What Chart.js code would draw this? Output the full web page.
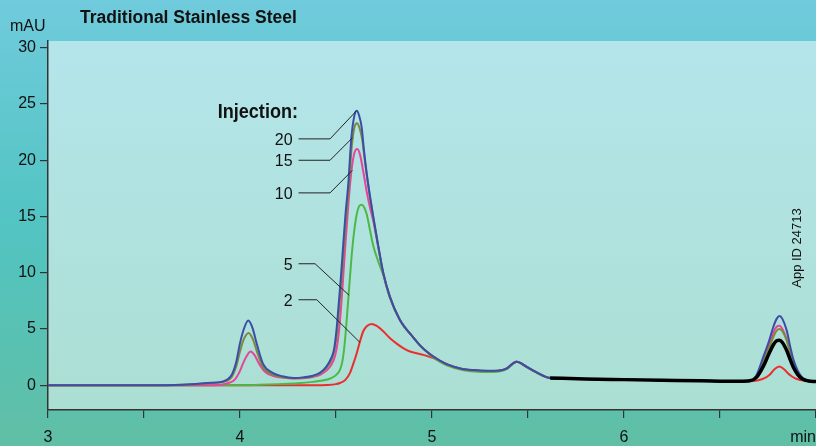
<!DOCTYPE html>
<html>
<head>
<meta charset="utf-8">
<script src="https://cdn.jsdelivr.net/npm/chart.js@4.4.1/dist/chart.umd.min.js"></script>
<style>
  html, body { margin: 0; padding: 0; background: #5fc3bd; }
  canvas { display: block; }
</style>
</head>
<body>
<canvas id="chrom" width="816" height="446"></canvas>
<script>
// retention time (min), absorbance (mAU) pairs
const inj20 = [[3.0,0],[3.5,0],[3.7,0.05],[3.85,0.22],[3.913,0.34],[3.957,0.93],[3.979,1.97],[4.0,3.74],[4.02,5.0],[4.043,5.75],[4.065,5.1],[4.087,3.7],[4.12,1.9],[4.17,1.1],[4.22,0.8],[4.28,0.65],[4.33,0.7],[4.38,0.85],[4.42,1.15],[4.45,1.65],[4.475,2.4],[4.49,3.2],[4.503,5.0],[4.513,7.0],[4.525,9.5],[4.538,12.6],[4.55,15.3],[4.564,17.9],[4.58,22.0],[4.595,23.9],[4.608,24.4],[4.62,24.0],[4.634,22.9],[4.645,21.0],[4.66,18.8],[4.677,16.8],[4.694,15.0],[4.72,12.4],[4.746,10.0],[4.78,7.9],[4.833,5.8],[4.9,4.3],[4.94,3.5],[4.99,2.75],[5.04,2.2],[5.08,1.85],[5.16,1.45],[5.22,1.35],[5.29,1.3],[5.35,1.32],[5.39,1.5],[5.415,1.85],[5.44,2.1],[5.465,1.95],[5.49,1.67],[5.545,1.15],[5.615,0.65],[5.8,0.55],[6.0,0.5],[6.2,0.45],[6.4,0.4],[6.6,0.36],[6.656,0.4],[6.69,0.9],[6.726,2.55],[6.755,3.9],[6.778,5.2],[6.795,5.9],[6.81,6.16],[6.825,5.9],[6.847,4.9],[6.865,3.5],[6.882,2.3],[6.905,1.3],[6.93,0.65],[6.96,0.4],[7.0,0.35]];
const inj15 = [[3.0,0],[3.5,0],[3.7,0.04],[3.85,0.2],[3.913,0.3],[3.957,0.75],[3.979,1.6],[4.0,3.0],[4.02,4.1],[4.045,4.65],[4.067,4.1],[4.09,2.9],[4.12,1.6],[4.17,0.95],[4.22,0.72],[4.28,0.62],[4.33,0.66],[4.38,0.8],[4.42,1.1],[4.45,1.55],[4.475,2.2],[4.49,3.0],[4.505,4.6],[4.515,6.5],[4.527,9.0],[4.54,12.0],[4.552,14.8],[4.566,17.4],[4.582,21.2],[4.597,23.0],[4.61,23.3],[4.622,22.9],[4.636,21.9],[4.647,20.4],[4.662,18.5],[4.678,16.6],[4.694,14.9],[4.72,12.3],[4.746,9.95],[4.78,7.9],[4.833,5.8],[4.9,4.3],[4.94,3.5],[4.99,2.75],[5.04,2.2],[5.08,1.82],[5.16,1.4],[5.22,1.3],[5.29,1.25],[5.35,1.28],[5.39,1.48],[5.415,1.83],[5.44,2.08],[5.465,1.93],[5.49,1.65],[5.545,1.13],[5.615,0.64],[5.8,0.55],[6.0,0.5],[6.2,0.45],[6.4,0.4],[6.6,0.36],[6.656,0.4],[6.69,0.8],[6.726,2.1],[6.755,3.3],[6.778,4.3],[6.795,4.85],[6.81,5.0],[6.825,4.8],[6.847,4.0],[6.865,2.9],[6.882,2.0],[6.905,1.15],[6.93,0.6],[6.96,0.4],[7.0,0.35]];
const inj10 = [[3.0,0],[3.8,0],[3.9,0.05],[3.95,0.25],[3.975,0.55],[3.995,1.1],[4.015,1.9],[4.035,2.6],[4.055,3.0],[4.075,2.7],[4.1,1.9],[4.13,1.2],[4.17,0.85],[4.22,0.68],[4.28,0.6],[4.33,0.62],[4.38,0.74],[4.42,0.95],[4.45,1.3],[4.475,1.8],[4.495,2.6],[4.51,4.0],[4.522,6.0],[4.535,9.0],[4.55,12.8],[4.565,16.2],[4.58,19.0],[4.595,20.6],[4.611,21.0],[4.625,20.5],[4.64,19.2],[4.66,17.2],[4.677,15.8],[4.694,14.6],[4.72,12.3],[4.746,9.95],[4.78,7.9],[4.833,5.8],[4.9,4.3],[4.94,3.5],[4.99,2.75],[5.04,2.2],[5.08,1.83],[5.16,1.42],[5.22,1.32],[5.29,1.27],[5.35,1.3],[5.39,1.5],[5.415,1.85],[5.44,2.1],[5.465,1.95],[5.49,1.66],[5.545,1.14],[5.615,0.65],[5.8,0.55],[6.0,0.5],[6.2,0.45],[6.4,0.4],[6.6,0.36],[6.656,0.4],[6.69,0.85],[6.726,2.3],[6.755,3.6],[6.778,4.7],[6.795,5.2],[6.81,5.3],[6.825,5.0],[6.847,4.1],[6.865,3.0],[6.882,2.0],[6.905,1.2],[6.93,0.62],[6.96,0.4],[7.0,0.35]];
const inj5 = [[3.0,0],[4.0,0],[4.1,0.04],[4.2,0.1],[4.3,0.18],[4.38,0.3],[4.43,0.42],[4.47,0.6],[4.5,0.9],[4.52,1.35],[4.533,2.1],[4.542,3.2],[4.55,4.6],[4.558,6.3],[4.566,8.1],[4.58,11.2],[4.594,13.6],[4.608,15.2],[4.62,15.9],[4.634,16.05],[4.647,15.8],[4.66,15.2],[4.677,13.8],[4.694,12.4],[4.72,11.0],[4.746,9.8],[4.78,7.8],[4.833,5.8],[4.9,4.3],[4.94,3.5],[4.99,2.7],[5.04,2.1],[5.08,1.75],[5.16,1.35],[5.22,1.22],[5.29,1.17],[5.35,1.22],[5.39,1.45],[5.415,1.82],[5.44,2.08],[5.465,1.93],[5.49,1.65],[5.545,1.13],[5.615,0.64],[5.8,0.55],[6.0,0.5],[6.2,0.45],[6.4,0.4],[6.6,0.36],[6.656,0.4],[6.69,0.75],[6.726,1.9],[6.755,3.0],[6.778,3.7],[6.795,3.95],[6.81,4.0],[6.825,3.8],[6.847,3.2],[6.865,2.4],[6.882,1.7],[6.905,1.0],[6.93,0.55],[6.96,0.4],[7.0,0.35]];
const inj2 = [[3.0,0],[4.4,0],[4.45,0.02],[4.5,0.1],[4.52,0.2],[4.55,0.5],[4.573,1.1],[4.59,1.9],[4.608,2.85],[4.625,3.9],[4.642,4.8],[4.66,5.25],[4.686,5.45],[4.71,5.3],[4.746,4.8],[4.78,4.2],[4.816,3.7],[4.85,3.3],[4.885,3.0],[4.92,2.85],[4.955,2.7],[5.0,2.45],[5.04,2.15],[5.08,1.85],[5.16,1.42],[5.22,1.32],[5.29,1.27],[5.35,1.3],[5.39,1.5],[5.415,1.85],[5.44,2.12],[5.465,1.95],[5.49,1.66],[5.545,1.14],[5.615,0.65],[5.8,0.55],[6.0,0.5],[6.2,0.45],[6.4,0.4],[6.6,0.36],[6.656,0.38],[6.7,0.45],[6.74,0.7],[6.76,0.95],[6.785,1.45],[6.81,1.67],[6.835,1.4],[6.855,1.05],[6.875,0.78],[6.9,0.55],[6.95,0.4],[7.0,0.35]];
const blank = [[5.615,0.65],[5.8,0.55],[6.0,0.5],[6.2,0.45],[6.4,0.4],[6.6,0.36],[6.656,0.4],[6.69,0.7],[6.726,1.7],[6.755,2.8],[6.778,3.6],[6.795,3.95],[6.81,4.0],[6.825,3.8],[6.847,3.1],[6.865,2.3],[6.882,1.6],[6.905,0.95],[6.93,0.55],[6.96,0.38],[7.0,0.33]];

const xTicks = [3, 3.5, 4, 4.5, 5, 5.5, 6, 6.5, 7];
const yTicks = [0, 5, 10, 15, 20, 25, 30];

// injection labels with leader lines (data units)
const callouts = [
  { text: '20', labelV: 21.9, elbowT: 4.469, endT: 4.607, endV: 24.4 },
  { text: '15', labelV: 20.0, elbowT: 4.469, endT: 4.586, endV: 22.0 },
  { text: '10', labelV: 17.1, elbowT: 4.469, endT: 4.585, endV: 19.1 },
  { text: '5',  labelV: 10.8, elbowT: 4.391, endT: 4.568, endV: 8.0 },
  { text: '2',  labelV: 7.6,  elbowT: 4.400, endT: 4.625, endV: 3.8 }
];

const FONT = "'Liberation Sans', Arial, Helvetica, sans-serif";
Chart.defaults.font.family = FONT;

const pts = arr => arr.map(p => ({ x: p[0], y: p[1] }));

const backdrop = {
  id: 'backdrop',
  beforeDraw(chart) {
    const { ctx, chartArea: a, width, height } = chart;
    ctx.save();
    let g = ctx.createLinearGradient(0, 0, 0, height);
    g.addColorStop(0, '#70cbdc');
    g.addColorStop(0.5, '#52c4c2');
    g.addColorStop(1, '#60bfa5');
    ctx.fillStyle = g;
    ctx.fillRect(0, 0, width, height);
    g = ctx.createLinearGradient(0, a.top, 0, a.bottom);
    g.addColorStop(0, '#b4e5eb');
    g.addColorStop(1, '#acdfd3');
    ctx.fillStyle = g;
    ctx.fillRect(a.left, a.top, a.right - a.left, a.bottom - a.top);
    ctx.restore();
  }
};

const overlay = {
  id: 'overlay',
  afterDraw(chart) {
    const { ctx } = chart;
    const xs = chart.scales.x, ys = chart.scales.y;
    ctx.save();
    ctx.fillStyle = '#111';

    ctx.font = 'bold 17.5px ' + FONT;
    ctx.textAlign = 'left';
    ctx.textBaseline = 'middle';
    ctx.fillText('Traditional Stainless Steel', 80, 18);

    ctx.font = '16px ' + FONT;
    ctx.fillText('mAU', 10, 27);

    ctx.textAlign = 'right';
    ctx.fillText('min', 816, 438);

    // leader lines
    const startT = 4.305, textT = 4.274;
    callouts.forEach(c => {
      const y = ys.getPixelForValue(c.labelV);
      ctx.strokeStyle = '#222';
      ctx.lineWidth = 1;
      ctx.beginPath();
      ctx.moveTo(xs.getPixelForValue(startT), y);
      ctx.lineTo(xs.getPixelForValue(c.elbowT), y);
      ctx.lineTo(xs.getPixelForValue(c.endT), ys.getPixelForValue(c.endV));
      ctx.stroke();
      ctx.font = '16px ' + FONT;
      ctx.textAlign = 'right';
      ctx.fillText(c.text, xs.getPixelForValue(textT), y + 1.5);
    });

    // condensed bold heading
    ctx.save();
    ctx.translate(xs.getPixelForValue(4.302), ys.getPixelForValue(24.25));
    ctx.scale(0.86, 1);
    ctx.font = 'bold 21px ' + FONT;
    ctx.textAlign = 'right';
    ctx.fillText('Injection:', 0, 0);
    ctx.restore();

    ctx.translate(797, 248);
    ctx.rotate(-Math.PI / 2);
    ctx.font = '13px ' + FONT;
    ctx.textAlign = 'center';
    ctx.fillText('App ID 24713', 0, 0);
    ctx.restore();
  }
};

const line = (data, color, w) => ({
  data: pts(data), borderColor: color, borderWidth: w,
  pointRadius: 0, fill: false, cubicInterpolationMode: 'monotone'
});

new Chart(document.getElementById('chrom'), {
  type: 'line',
  data: {
    datasets: [
      line(blank, '#000000', 3.5),
      line(inj20, '#3a4ea8', 2),
      line(inj15, '#7d8a3c', 2),
      line(inj10, '#e8449a', 2),
      line(inj5, '#4db848', 2),
      line(inj2, '#ec2d2d', 2)
    ]
  },
  options: {
    responsive: false,
    animation: false,
    devicePixelRatio: 1,
    layout: { padding: { top: 41, left: 0, right: 0, bottom: 0 } },
    plugins: { legend: { display: false }, tooltip: { enabled: false } },
    scales: {
      x: {
        type: 'linear', min: 3, max: 7,
        afterBuildTicks: s => { s.ticks = xTicks.map(v => ({ value: v })); },
        afterFit: s => { s.height = 36; s.paddingLeft = 0; s.paddingRight = 0; },
        grid: { drawOnChartArea: false, drawTicks: true, tickLength: 8, color: '#333', lineWidth: 1.2 },
        border: { color: '#333', width: 1.5 },
        ticks: {
          autoSkip: false, maxRotation: 0, padding: 10, color: '#111', font: { size: 16 },
          callback: v => (Number.isInteger(v) && v < 7) ? String(v) : ''
        }
      },
      y: {
        min: -2.2, max: 30.6,
        afterBuildTicks: s => { s.ticks = yTicks.map(v => ({ value: v })); },
        afterFit: s => { s.width = 48; s.paddingTop = 0; s.paddingBottom = 0; },
        grid: { drawOnChartArea: false, drawTicks: true, tickLength: 8, color: '#333', lineWidth: 1.2 },
        border: { color: '#333', width: 1.5 },
        ticks: { padding: 4, color: '#111', font: { size: 16 } }
      }
    }
  },
  plugins: [backdrop, overlay]
});
</script>
</body>
</html>
